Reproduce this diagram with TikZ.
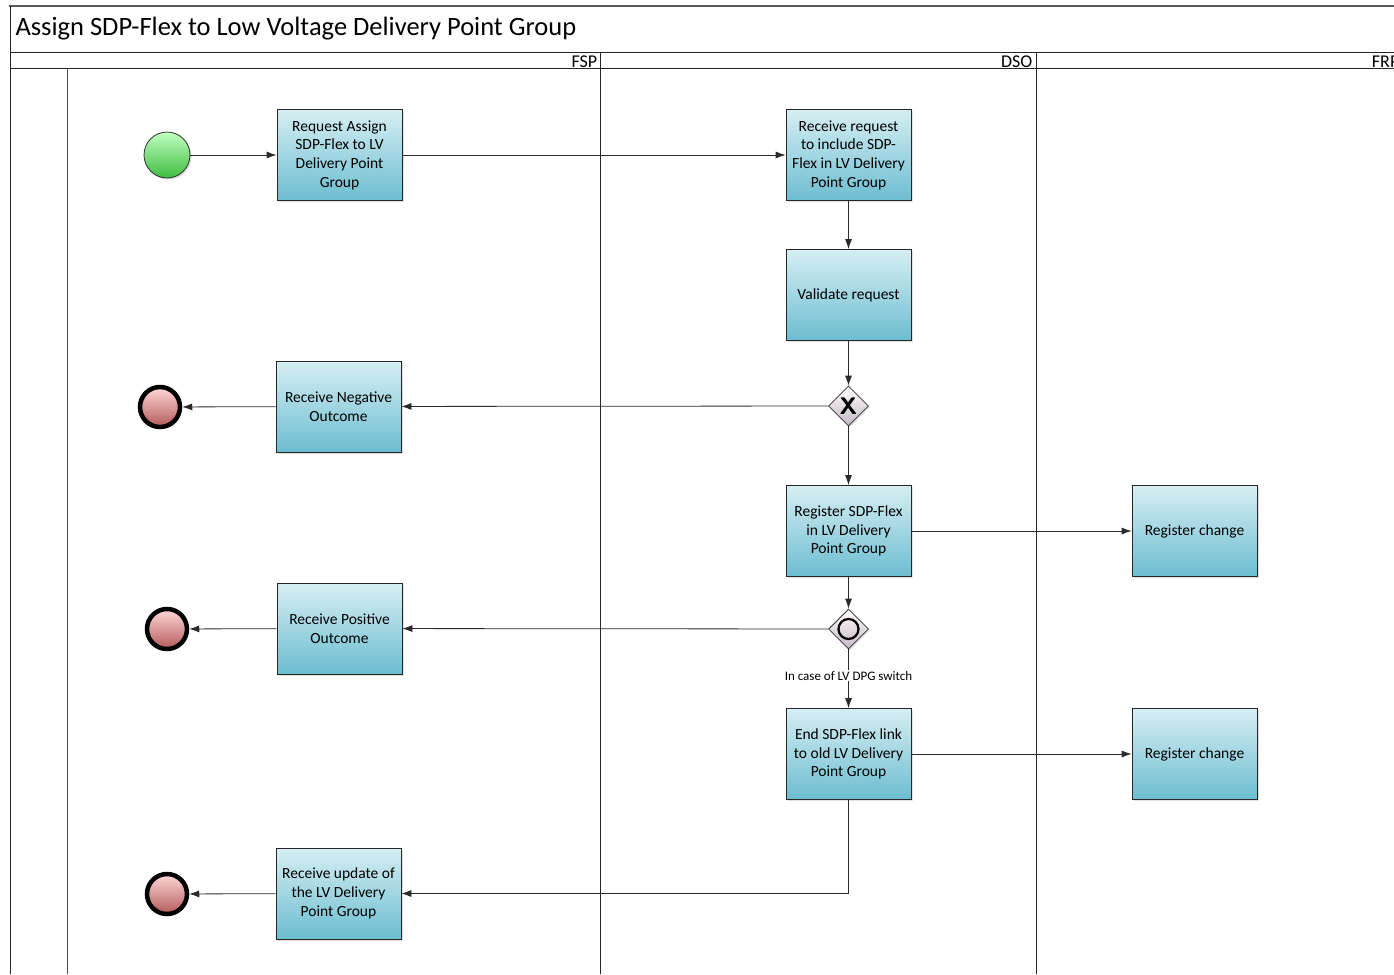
\documentclass[tikz,border=0pt]{standalone}
\usepackage{fontspec}
\setmainfont{Carlito}
\usetikzlibrary{arrows.meta,shapes.geometric,shadows}
\definecolor{taskTop}{HTML}{D6EEF3}
\definecolor{taskBot}{HTML}{6CBDD0}
\definecolor{edgeCol}{HTML}{2A2A2A}
\begin{document}
\begin{tikzpicture}[x=1pt,y=-1pt,
  task/.style={draw=black!85,line width=0.8pt,top color=taskTop,bottom color=taskBot,minimum width=125pt,minimum height=91pt,align=center,font=\fontsize{15.5}{18.7}\selectfont,drop shadow={shadow xshift=1.5pt,shadow yshift=-1.5pt,opacity=0.25}},
  startev/.style={circle,draw=black!80,line width=0.8pt,top color=green!25!white,bottom color=green!65!black!75,minimum size=46pt,drop shadow={shadow xshift=1.5pt,shadow yshift=-1.5pt,opacity=0.3}},
  endev/.style={circle,draw=black,line width=4.5pt,top color=red!15!white,bottom color=red!55!black!65,minimum size=40pt,drop shadow={shadow xshift=1.5pt,shadow yshift=-1.5pt,opacity=0.3}},
  gate/.style={diamond,aspect=1,draw=black!80,line width=0.8pt,top color=white,bottom color=violet!25!gray!45,minimum size=40pt,inner sep=0pt,drop shadow={shadow xshift=1.5pt,shadow yshift=-1.5pt,opacity=0.25}},
  flow/.style={draw=edgeCol,line width=0.8pt,-{Latex[length=10pt,width=7pt]}},
  lane/.style={font=\fontsize{18}{18}\selectfont,anchor=base east,inner sep=0.5pt}]
\useasboundingbox (0,0) rectangle (1394,974);
\clip (0,0) rectangle (1394,974);
% pool and lanes
\draw[gray!70!black,line width=2pt] (9,6)--(1394,6);
\draw[black!85,line width=0.9pt] (10,6)--(10,974);
\draw[black!85,line width=0.9pt] (10,52)--(1394,52) (10,68)--(1394,68);
\draw[black!70,line width=0.9pt] (67,68)--(67,974);
\draw[black!85,line width=0.9pt] (600,52)--(600,974) (1036,52)--(1036,974);
\node[anchor=west,font=\fontsize{26.5}{26.5}\selectfont] (title) at (12,29) {Assign SDP-Flex to Low Voltage Delivery Point Group};
\node[lane] (fsp) at (598,67) {FSP};
\node[lane] (dso) at (1033,67) {DSO};
\node[lane] (frp) at (1400,67) {FRP};
% events and tasks
\node[startev] (start) at (167,155) {};
\node[task] (req) at (339.5,155) {Request Assign\\SDP-Flex to LV\\Delivery Point\\Group};
\node[task] (recv) at (848.5,155) {Receive request\\to include SDP-\\Flex in LV Delivery\\Point Group};
\node[task] (valid) at (848.5,295) {Validate request};
\node[gate] (gwx) at (848.5,406) {\fontsize{24}{24}\selectfont\sffamily\bfseries X};
\node[task] (neg) at (338.5,406.5) {Receive Negative\\Outcome};
\node[endev] (end1) at (160,407) {};
\node[task] (reg) at (848.5,531) {Register SDP-Flex\\in LV Delivery\\Point Group};
\node[task] (chg1) at (1194.5,531) {Register change};
\node[gate] (gwo) at (848.5,629) {};
\node[circle,draw=black,line width=2.2pt,minimum size=20pt,inner sep=0pt] (gworing) at (gwo) {};
\node[task] (pos) at (339.5,628.5) {Receive Positive\\Outcome};
\node[endev] (end2) at (167,629) {};
\node[task] (endlink) at (848.5,754) {End SDP-Flex link\\to old LV Delivery\\Point Group};
\node[task] (chg2) at (1194.5,754) {Register change};
\node[task] (upd) at (338.5,893.5) {Receive update of\\the LV Delivery\\Point Group};
\node[endev] (end3) at (167,894) {};
% flows
\draw[flow] (start)--(req);
\draw[flow] (req)--(recv);
\draw[flow] (recv)--(valid);
\draw[flow] (valid)--(gwx);
\draw[flow] (gwx)--(neg);
\draw[flow] (neg)--(end1);
\draw[flow] (gwx)--(reg);
\draw[flow] (reg)--(chg1);
\draw[flow] (reg)--(gwo);
\draw[flow] (gwo)--(pos);
\draw[flow] (pos)--(end2);
\draw[flow] (gwo)--(endlink) node[pos=0.45,fill=white,inner sep=1pt,font=\fontsize{13}{13}\selectfont] {In case of LV DPG switch};
\draw[flow] (endlink)--(chg2);
\draw[flow] (endlink.south) |- (upd.east);
\draw[flow] (upd)--(end3);
\end{tikzpicture}
\end{document}
